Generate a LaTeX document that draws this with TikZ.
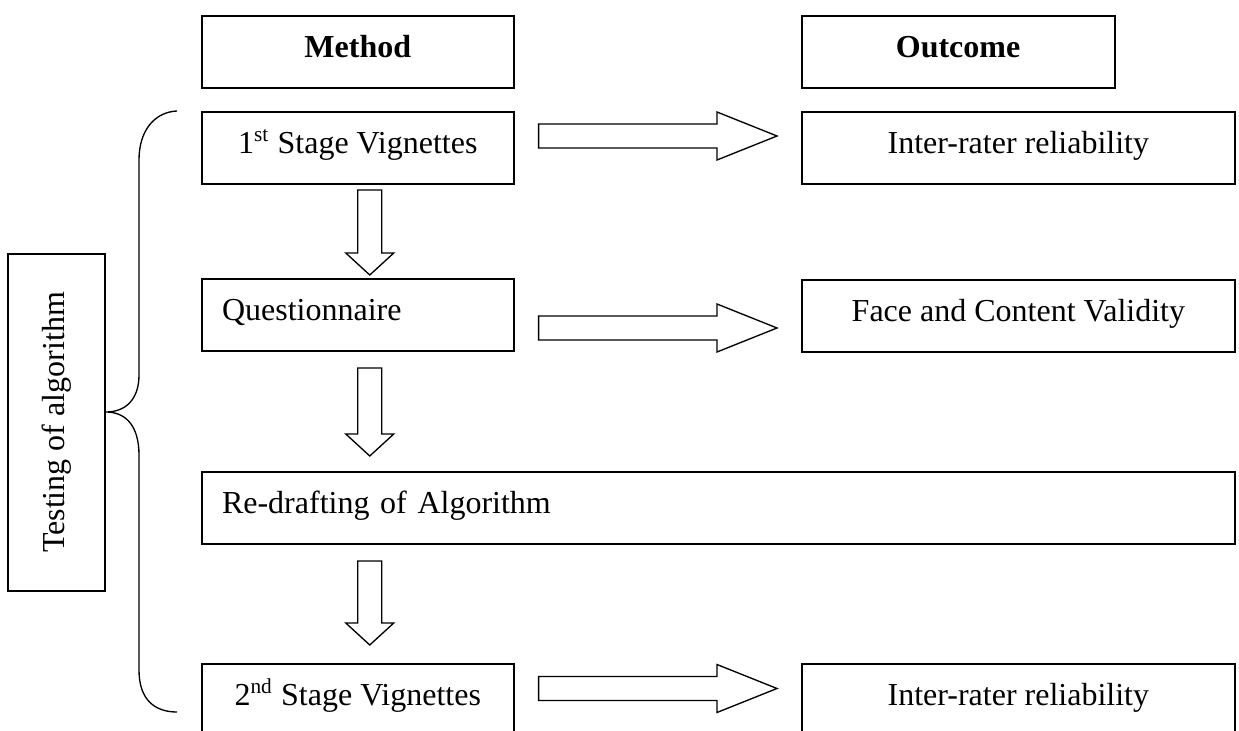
\documentclass[tikz,border=0pt]{standalone}
\usepackage{fontspec}
\setmainfont{Liberation Serif}
\usetikzlibrary{calc}
\tikzset{
  box/.style={draw,line width=0.75pt,anchor=north west,minimum height=27pt,inner ysep=0pt,text height=15.4pt,text depth=11.6pt},
  leftbox/.style={box,align=left,inner xsep=7.7pt},
  hollow/.style={draw,line width=0.5pt,line join=miter,fill=white}
}
\newcommand{\harrow}[2]{\draw[hollow] let \p1=(#1), \p2=(#2) in (\x1,\y1+4.5pt) -- (\x2-22.5pt,\y1+4.5pt) -- (\x2-22.5pt,\y1+9pt) -- (\x2,\y1) -- (\x2-22.5pt,\y1-9pt) -- (\x2-22.5pt,\y1-4.5pt) -- (\x1,\y1-4.5pt) -- cycle;}
\newcommand{\varrow}[2]{\draw[hollow] let \p1=(#1), \p2=(#2) in (\x1-4.5pt,\y1) -- (\x1-4.5pt,\y2+8.25pt) -- (\x1-9pt,\y2+8.25pt) -- (\x1,\y2) -- (\x1+9pt,\y2+8.25pt) -- (\x1+4.5pt,\y2+8.25pt) -- (\x1+4.5pt,\y1) -- cycle;}
\begin{document}
\begin{tikzpicture}[x=0.375pt,y=-0.375pt,font=\fontsize{12pt}{14pt}\selectfont]
\clip (0,0) rectangle (1239,731);
\node[box,minimum width=117.2pt] (meth) at (200.5,15) {\textbf{Method}};
\node[box,minimum width=117.3pt] (outc) at (800.7,15) {\textbf{Outcome}};
\node[box,minimum width=117.2pt] (s1) at (200.5,111) {1\textsuperscript{st} Stage Vignettes};
\node[box,minimum width=162.5pt] (ir1) at (800.7,111) {Inter-rater reliability};
\node[leftbox,text width=101.8pt] (q) at (200.5,278) {Questionnaire};
\node[box,minimum width=162.5pt] (fcv) at (800.7,279) {Face and Content Validity};
\node[leftbox,text width=372.2pt] (r) at (200.5,471) {Re-drafting of Algorithm};
\node[box,minimum width=117.2pt] (s2) at (200.5,663) {2\textsuperscript{nd} Stage Vignettes};
\node[box,minimum width=162.5pt] (ir2) at (800.7,663) {Inter-rater reliability};
\node[draw,line width=0.6pt,rotate=90,minimum width=126.4pt,minimum height=36.4pt,inner sep=0pt] (test) at (56.5,422.5) {Testing of algorithm};
\coordinate (h1a) at ([shift={(23.6,-12)}]s1.east);
\coordinate (h1b) at ([shift={(-23.7,-12)}]ir1.west);
\coordinate (h2a) at ([shift={(23.6,13)}]q.east);
\coordinate (h2b) at ([shift={(-23.7,12)}]fcv.west);
\coordinate (h3a) at ([shift={(23.6,-11.5)}]s2.east);
\coordinate (h3b) at ([shift={(-23.7,-11.5)}]ir2.west);
\coordinate (v1a) at ([shift={(12,5)}]s1.south);
\coordinate (v1b) at ([shift={(12,-3)}]q.north);
\coordinate (v2a) at ([shift={(12,16)}]q.south);
\coordinate (v2b) at ([shift={(0,-15)}]v2a |- r.north);
\coordinate (v3a) at ([shift={(0,16)}]v2a |- r.south);
\coordinate (v3b) at ([shift={(12,-18)}]s2.north);
\harrow{h1a}{h1b}
\harrow{h2a}{h2b}
\harrow{h3a}{h3b}
\varrow{v1a}{v1b}
\varrow{v2a}{v2b}
\varrow{v3a}{v3b}
\draw[line width=0.5pt] (177,111) .. controls (155,112) and (139,130) .. (139,160) -- (139,375) .. controls (139,400) and (125,412) .. (106,412) .. controls (125,412) and (139,425) .. (139,455) -- (139,670) .. controls (139,700) and (155,712) .. (177,712);
\end{tikzpicture}
\end{document}
